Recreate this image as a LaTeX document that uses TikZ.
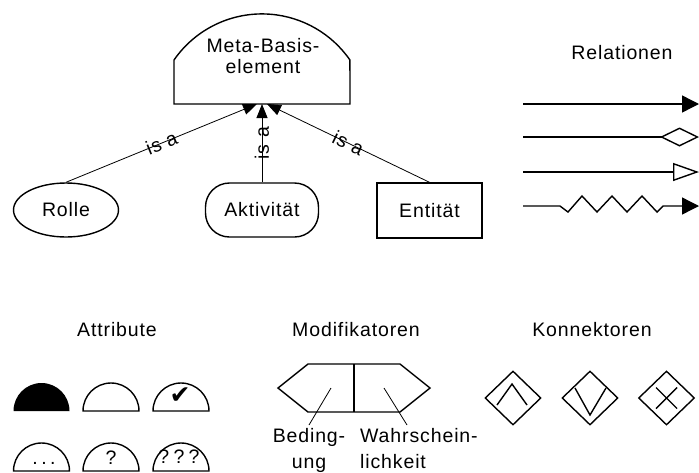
\documentclass[tikz,border=0pt]{standalone}
\usepackage{fontspec}
\setmainfont{Liberation Sans}[LetterSpace=4.5]
\newfontfamily\symfont{DejaVu Sans}
\usetikzlibrary{arrows.meta,shapes.geometric}

\begin{document}
\begin{tikzpicture}[x=1pt,y=-1pt,
  every node/.style={font=\fontsize{19.5}{22}\selectfont, inner sep=0pt},
  frame/.style={draw, line width=1.4pt},
  isaline/.style={line width=0.8pt, -{Triangle[length=14pt,width=11pt]}},
  isalbl/.style={sloped, inner sep=0pt},
  rel/.style={line width=1.4pt},
  title/.style={anchor=base},
  halfdisc/.style={line width=1.4pt},
  conn/.style={draw, diamond, minimum width=56pt, minimum height=54pt, line width=1.4pt},
  glyph/.style={line width=1.4pt},
  leader/.style={line width=0.8pt},
  twoline/.style={anchor=north, font=\fontsize{19.5}{26}\selectfont},
]
\useasboundingbox (0,0) rectangle (699,472);

% ---- meta element with its is-a hierarchy ----
\draw[line width=1.4pt] (350,104) -- (174,104) -- (174,60)
  arc[start angle=214.7, end angle=325.3, radius=107] -- cycle;
\node[align=center, anchor=north, font=\fontsize{19.5}{21.5}\selectfont]
  (meta) at (263,38) {Meta-Basis-\\element};
\coordinate (tipL) at (257,104);
\coordinate (tipC) at (262,104);
\coordinate (tipR) at (267,104);

\node[frame, ellipse, minimum width=105pt, minimum height=54pt] (rolle) at (66,210) {Rolle};
\node[frame, rectangle, rounded corners=24pt, minimum width=113pt, minimum height=54pt] (akt) at (262,210) {Aktivität};
\node[frame, rectangle, minimum width=105pt, minimum height=55pt] (ent) at (429.5,210.5) {Entität};

\draw[isaline] (rolle.north) -- node[isalbl] {is a} (tipL);
\draw[isaline] (akt.north) -- node[isalbl] {is a} (tipC);
\draw[isaline] (ent.north) -- node[isalbl] {is a} (tipR);

% ---- relation kinds ----
\node[title] (reltitle) at (622,59) {Relationen};
\coordinate (r1s) at (523,104); \coordinate (r1e) at (699,104);
\coordinate (r2s) at (523,137); \coordinate (r2e) at (699,137);
\coordinate (r3s) at (523,172); \coordinate (r3e) at (699,172);
\coordinate (r4s) at (523,206); \coordinate (r4e) at (699,206);
\draw[rel, -{Triangle[length=17pt,width=17pt]}] (r1s) -- (r1e);
\draw[rel, -{Diamond[open,length=39pt,width=19pt]}] (r2s) -- (r2e);
\draw[rel, -{Triangle[open,length=26pt,width=18pt]}] (r3s) -- (r3e);
\draw[rel, -{Triangle[length=17pt,width=17pt]}] (r4s) -- ++(37,0)
  -- ++(8,6) -- ++(14,-16) -- ++(15,16) -- ++(15,-16) -- ++(15,16)
  -- ++(15,-16) -- ++(15,16) -- ++(6,-6) -- (r4e);

% ---- attributes ----
\node[title] (attrtitle) at (117,336) {Attribute};
\fill[halfdisc] (13.5,411) arc[start angle=180, end angle=360, radius=28] -- cycle;
\draw[halfdisc] (83,411) arc[start angle=180, end angle=360, radius=28] -- cycle;
\draw[halfdisc] (153,411) arc[start angle=180, end angle=360, radius=28] -- cycle;
\draw[halfdisc] (13.5,471) arc[start angle=180, end angle=360, radius=28] -- cycle;
\draw[halfdisc] (83,471) arc[start angle=180, end angle=360, radius=28] -- cycle;
\draw[halfdisc] (153,471) arc[start angle=180, end angle=360, radius=28] -- cycle;
\node[font=\symfont\fontsize{25}{25}\selectfont] (chk) at (180,395.5) {✔};
\node[font=\fontsize{19.5}{22}\selectfont\addfontfeature{LetterSpace=18}] (dots) at (44,463) {...};
\node (q1) at (111,458) {?};
\node[font=\fontsize{19.5}{22}\selectfont\addfontfeature{LetterSpace=22}] (q3) at (179,457) {???};

% ---- modifiers ----
\node[title] (modtitle) at (356,336) {Modifikatoren};
\draw[line width=1.4pt] (278,388) -- (308,364) -- (400,364) -- (430,388)
  -- (400,412) -- (308,412) -- cycle;
\draw[line width=1.4pt] (354,364) -- (354,412);
\node[twoline, align=center] (bed) at (309,428) {Beding-\\ung};
\node[twoline, align=left, anchor=north west] (wahr) at (360,428) {Wahrschein-\\lichkeit};
\coordinate (bedin) at (331,388);  \coordinate (bedout) at (309,425);
\coordinate (wahrin) at (384,388); \coordinate (wahrout) at (407,425);
\draw[leader] (bedin) -- (bedout);
\draw[leader] (wahrin) -- (wahrout);

% ---- connectors ----
\node[title] (contitle) at (592,336) {Konnektoren};
\node[conn] (kand) at (513,398) {};
\node[conn] (kor) at (590,398) {};
\node[conn] (kxor) at (666.5,398) {};
\draw[glyph] ([shift={(-16,7)}]kand.center) -- ([shift={(-1,-14)}]kand.center) -- ([shift={(14,7)}]kand.center);
\draw[glyph] ([shift={(-15,-10)}]kor.center) -- ([shift={(0,17)}]kor.center) -- ([shift={(16,-10)}]kor.center);
\draw[glyph] ([shift={(-10.5,-10.5)}]kxor.center) -- ([shift={(10.5,10.5)}]kxor.center);
\draw[glyph] ([shift={(10.5,-10.5)}]kxor.center) -- ([shift={(-10.5,10.5)}]kxor.center);
\end{tikzpicture}
\end{document}
